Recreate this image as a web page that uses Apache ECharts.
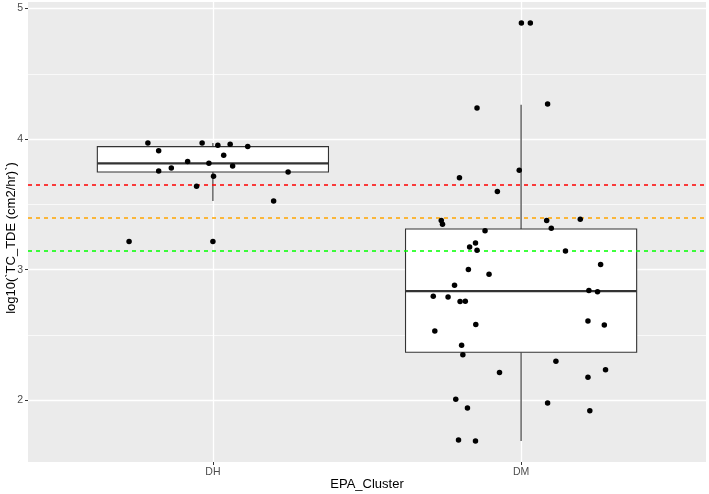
<!DOCTYPE html>
<html>
<head>
<meta charset="utf-8">
<script src="https://cdn.jsdelivr.net/npm/echarts@6/dist/echarts.min.js"></script>
<style>html,body{margin:0;padding:0;background:#fff}#c{width:709px;height:494px}</style>
</head>
<body>
<div id="c"></div>
<script>
// ---- data ----
var categories = ['DH', 'DM'];
var yTicks = [2, 3, 4, 5];
var yMinorTicks = [2.5, 3.5, 4.5];
// boxplot stats: [lower whisker, Q1, median, Q3, upper whisker]
var dhBox = [3.526, 3.748, 3.815, 3.943, 3.970];
var dmBox = [1.688, 2.368, 2.837, 3.312, 4.264];
// jittered points: horizontal jitter offset (category units) and value
var dhJitter = [-0.211, -0.176, -0.035, 0.016, 0.056, 0.113, 0.035, -0.082, -0.013, -0.176, -0.135, 0.064, 0.244, 0.002, -0.053, 0.197, -0.272, 0.000];
var dhValues = [3.970, 3.912, 3.970, 3.953, 3.960, 3.943, 3.876, 3.828, 3.815, 3.756, 3.779, 3.794, 3.748, 3.715, 3.639, 3.526, 3.217, 3.217];
var dmJitter = [0.001, 0.030, -0.143, 0.086, -0.006, -0.200, -0.077, -0.259, -0.255, 0.083, 0.192, -0.117, 0.098, -0.148, -0.167, -0.143, 0.144, 0.258, -0.171, -0.104, -0.216, 0.220, 0.248, -0.285, -0.237, -0.198, -0.181, 0.217, 0.270, -0.147, -0.280, -0.193, -0.189, 0.113, -0.070, 0.274, 0.217, -0.212, 0.086, -0.174, 0.223, -0.203, -0.148];
var dmValues = [4.889, 4.889, 4.238, 4.269, 3.761, 3.705, 3.600, 3.378, 3.348, 3.378, 3.386, 3.299, 3.317, 3.204, 3.174, 3.149, 3.143, 3.041, 3.001, 2.965, 2.881, 2.842, 2.832, 2.798, 2.791, 2.756, 2.758, 2.607, 2.577, 2.580, 2.531, 2.421, 2.350, 2.299, 2.214, 2.234, 2.176, 2.008, 1.979, 1.941, 1.921, 1.696, 1.688];
var thresholdValues = [3.652, 3.394, 3.143];
var thresholdColors = ['#ff0000', '#ffa500', '#00ff00'];

// ---- build ----
var boxData = [[1].concat(dhBox), [2].concat(dmBox)];
var points = [];
dhValues.forEach(function (v, i) { points.push([1 + dhJitter[i], v]); });
dmValues.forEach(function (v, i) { points.push([2 + dmJitter[i], v]); });

var gridLines = [];
yTicks.forEach(function (t) { gridLines.push({ yAxis: t, lineStyle: { width: 1.3 } }); });
yMinorTicks.forEach(function (t) { gridLines.push({ yAxis: t, lineStyle: { width: 0.7 } }); });
categories.forEach(function (c, i) { gridLines.push({ xAxis: i + 1, lineStyle: { width: 1.3 } }); });

var thresholdData = thresholdValues.map(function (t, i) { return [i, t]; });

var chart = echarts.init(document.getElementById('c'), null, { renderer: 'canvas' });
var font = 'Liberation Sans, Arial, sans-serif';
chart.setOption({
  animation: false,
  backgroundColor: '#ffffff',
  grid: { left: 28, right: 3, top: 2, bottom: 32, show: true, backgroundColor: '#EBEBEB', borderWidth: 0,
    containLabel: false, outerBoundsMode: 'none' },
  xAxis: {
    type: 'value', min: 0.4, max: 2.6,
    axisLine: { show: false },
    axisTick: { show: true, length: 3, lineStyle: { color: '#333' }, customValues: [1, 2] },
    axisLabel: {
      customValues: [1, 2], color: '#4D4D4D', fontSize: 10.5, fontFamily: font, margin: 5,
      formatter: function (v) { return categories[Math.round(v) - 1] || ''; }
    },
    splitLine: { show: false }
  },
  yAxis: {
    type: 'value', min: 1.528, max: 5.05,
    axisLine: { show: false },
    axisTick: { show: true, length: 3, lineStyle: { color: '#333' }, customValues: yTicks },
    axisLabel: { customValues: yTicks, color: '#4D4D4D', fontSize: 10.5, fontFamily: font, margin: 5 },
    splitLine: { show: false }
  },
  graphic: [{
    type: 'text', x: 11, y: 238, rotation: Math.PI / 2,
    style: { text: 'log10(`TC_TDE (cm2/hr)`)', fill: '#000', font: '13px ' + font, align: 'center', verticalAlign: 'middle' }
  }, {
    type: 'text', x: 367, y: 484, 
    style: { text: 'EPA_Cluster', fill: '#000', font: '13px ' + font, align: 'center', verticalAlign: 'middle' }
  }],
  series: [
    {
      type: 'scatter', data: [], z: 1, silent: true,
      markLine: { z: 1, silent: true, symbol: 'none', label: { show: false }, animation: false,
        lineStyle: { color: '#ffffff', type: 'solid' }, data: gridLines }
    },
    {
      type: 'custom', z: 2, silent: true, data: boxData,
      renderItem: function (params, api) {
        var x = api.value(0);
        var half = api.size([0.75, 0])[0] / 2;
        var pMin = api.coord([x, api.value(1)]);
        var pQ1 = api.coord([x, api.value(2)]);
        var pMed = api.coord([x, api.value(3)]);
        var pQ3 = api.coord([x, api.value(4)]);
        var pMax = api.coord([x, api.value(5)]);
        var stroke = { stroke: '#333333', lineWidth: 1.1 };
        return {
          type: 'group',
          children: [
            { type: 'line', shape: { x1: pMax[0], y1: pMax[1], x2: pQ3[0], y2: pQ3[1] }, style: stroke },
            { type: 'line', shape: { x1: pQ1[0], y1: pQ1[1], x2: pMin[0], y2: pMin[1] }, style: stroke },
            { type: 'rect', shape: { x: pQ3[0] - half, y: pQ3[1], width: 2 * half, height: pQ1[1] - pQ3[1] },
              style: { fill: '#ffffff', stroke: '#333333', lineWidth: 1.1 } },
            { type: 'line', shape: { x1: pMed[0] - half, y1: pMed[1], x2: pMed[0] + half, y2: pMed[1] },
              style: { stroke: '#333333', lineWidth: 2.2 } }
          ]
        };
      }
    },
    {
      type: 'custom', z: 3, silent: true, data: thresholdData,
      renderItem: function (params, api) {
        var cs = params.coordSys;
        var y = Math.round(api.coord([1, api.value(1)])[1]);
        return {
          type: 'line',
          shape: { x1: cs.x, y1: y, x2: cs.x + cs.width, y2: y },
          style: { stroke: thresholdColors[api.value(0)], lineWidth: 1.5, lineDash: [4, 4] }
        };
      }
    },
    {
      type: 'scatter', z: 6, data: points, symbol: 'circle', symbolSize: 5.5,
      itemStyle: { color: '#000000', opacity: 1 }
    }
  ]
});
</script>
</body>
</html>
